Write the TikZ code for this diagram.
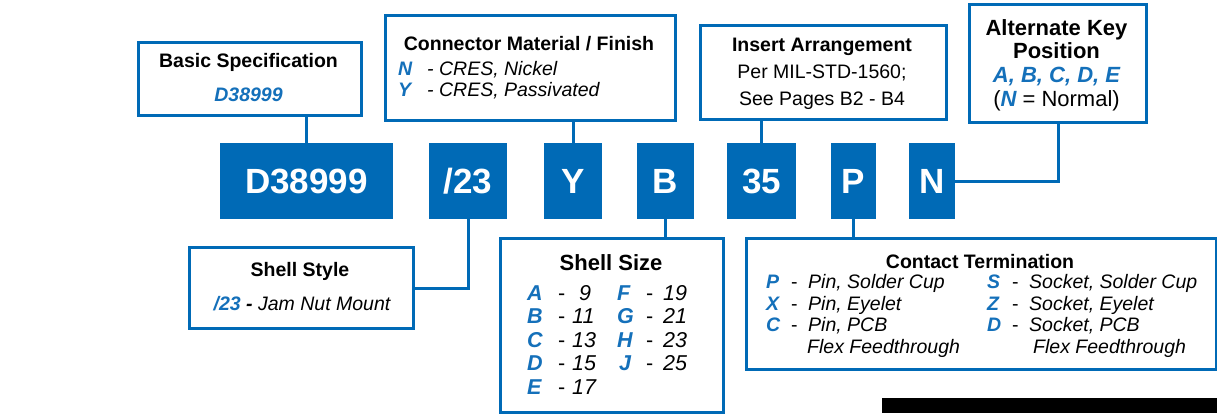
\documentclass[tikz,border=0pt]{standalone}
\usepackage{fontspec}
\setmainfont{Liberation Sans}
\definecolor{gblue}{RGB}{0,106,182}
\definecolor{tblue}{RGB}{20,112,186}
\begin{document}
\begin{tikzpicture}[x=1pt,y=-1pt,
  box/.style={draw=gblue, line width=3pt, fill=white, inner sep=0pt, anchor=north west},
  code/.style={fill=gblue, inner sep=0pt, anchor=north west, minimum height=76pt},
  codetxt/.style={text=white, font=\fontsize{35}{35}\selectfont\bfseries, inner sep=0pt, anchor=base},
  link/.style={draw=gblue, line width=3pt},
  ttl/.style={font=\fontsize{19.5}{20}\selectfont\bfseries, inner sep=0pt, anchor=base},
  bigttl/.style={font=\fontsize{22}{22}\selectfont\bfseries, inner sep=0pt, anchor=base},
  txt/.style={font=\fontsize{19.5}{20}\selectfont, inner sep=0pt, anchor=base},
  itx/.style={font=\fontsize{19.5}{20}\selectfont\itshape, inner sep=0pt, anchor=base west},
  bl/.style={font=\fontsize{19.5}{20}\selectfont\bfseries\itshape, text=tblue, inner sep=0pt, anchor=base west},
  dsh/.style={font=\fontsize{19.5}{20}\selectfont, inner sep=0pt, anchor=base west},
  szl/.style={font=\fontsize{21.5}{22}\selectfont\bfseries\itshape, text=tblue, inner sep=0pt, anchor=base west},
  szn/.style={font=\fontsize{21.5}{22}\selectfont\itshape, inner sep=0pt, anchor=base west},
  szd/.style={font=\fontsize{21.5}{22}\selectfont, inner sep=0pt, anchor=base west}]
\useasboundingbox (0,0) rectangle (1217,413);
\fill[white] (0,0) rectangle (1217,413);

% code boxes
\node[code, minimum width=173pt] (d) at (220,143) {};
\node[code, minimum width=78pt] (s23) at (429,143) {};
\node[code, minimum width=58pt] (y) at (544,143) {};
\node[code, minimum width=57pt] (b) at (637,143) {};
\node[code, minimum width=69pt] (n35) at (727,143) {};
\node[code, minimum width=45pt] (p) at (831,143) {};
\node[code, minimum width=46pt] (nn) at (909,143) {};

\node[codetxt] (dt) at (306.5,193) {D38999};
\node[codetxt] (s23t) at (468,193) {/23};
\node[codetxt] (yt) at (573,193) {Y};
\node[codetxt] (bt) at (665.5,193) {B};
\node[codetxt] (n35t) at (761.5,193) {35};
\node[codetxt] (pt) at (853.5,193) {P};
\node[codetxt] (nnt) at (932,193) {N};

% description boxes
\node[box, minimum width=223pt, minimum height=73pt] (bs) at (137,41) {};
\node[box, minimum width=290pt, minimum height=105pt] (cm) at (384,14) {};
\node[box, minimum width=246pt, minimum height=94pt] (ia) at (699,24) {};
\node[box, minimum width=177pt, minimum height=118pt] (ak) at (968,3) {};
\node[box, minimum width=224pt, minimum height=81pt] (ss) at (188,246) {};
\node[box, minimum width=223pt, minimum height=174pt] (sz) at (499,237) {};
\node[box, minimum width=470pt, minimum height=131pt] (ct) at (745,237) {};

% connectors
\draw[link] (bs.south -| d.north) -- (d.north);
\draw[link] (cm.south -| y.north) -- (y.north);
\draw[link] (ia.south -| n35.north) -- (n35.north);
\draw[link] (ak.south) |- (nn.east);
\draw[link] (s23.south) |- (ss.east);
\draw[link] (b.south) -- (b.south |- sz.north);
\draw[link] (p.south) -- (p.south |- ct.north);

% Basic Specification
\node[ttl] (bst) at (248.5,67.5) {Basic Specification};
\node[font=\fontsize{19.5}{20}\selectfont\bfseries\itshape, text=tblue, inner sep=0pt, anchor=base] (bsv) at (248.5,101.5) {D38999};

% Connector Material / Finish
\node[ttl] (cmt) at (529,50) {Connector Material / Finish};
\node[bl] (cmn) at (398,75) {N};
\node[itx] (cmnt) at (427,75) {- CRES, Nickel};
\node[bl] (cmy) at (398,96) {Y};
\node[itx] (cmyt) at (427,96) {- CRES, Passivated};

% Insert Arrangement
\node[ttl] (iat) at (822,51) {Insert Arrangement};
\node[txt] (ia1) at (822,78) {Per MIL-STD-1560;};
\node[txt] (ia2) at (822,105) {See Pages B2 - B4};

% Alternate Key Position
\node[bigttl] (ak1) at (1056.5,35) {Alternate Key};
\node[bigttl] (ak2) at (1056.5,58) {Position};
\node[font=\fontsize{22}{22}\selectfont\bfseries\itshape, text=tblue, inner sep=0pt, anchor=base] (ak3) at (1056.5,82) {A, B, C, D, E};
\node[font=\fontsize{22}{22}\selectfont, inner sep=0pt, anchor=base] (ak4) at (1056.5,106) {(\textcolor{tblue}{\bfseries\itshape N} = Normal)};

% Shell Style
\node[ttl] (sst) at (300,276.5) {Shell Style};
\node[font=\fontsize{19.5}{20}\selectfont\itshape, inner sep=0pt, anchor=base] (ssv) at (302,310) {\textcolor{tblue}{\bfseries /23} \textbf{-} Jam Nut Mount};

% Shell Size
\node[bigttl] (szt) at (611,270) {Shell Size};
\node[szl] (sa) at (527,300) {A};   \node[szd] (sad) at (558,300) {-}; \node[szn] (san) at (579,300) {9};
\node[szl] (sb) at (527,323.5) {B}; \node[szd] (sbd) at (558,323.5) {-}; \node[szn] (sbn) at (572,323.5) {11};
\node[szl] (sc) at (527,347) {C};   \node[szd] (scd) at (558,347) {-}; \node[szn] (scn) at (572,347) {13};
\node[szl] (sd) at (527,370.5) {D}; \node[szd] (sdd) at (558,370.5) {-}; \node[szn] (sdn) at (572,370.5) {15};
\node[szl] (se) at (527,394) {E};   \node[szd] (sed) at (558,394) {-}; \node[szn] (sen) at (572,394) {17};
\node[szl] (sf) at (617,300) {F};   \node[szd] (sfd) at (646,300) {-}; \node[szn] (sfn) at (663,300) {19};
\node[szl] (sg) at (617,323.5) {G}; \node[szd] (sgd) at (646,323.5) {-}; \node[szn] (sgn) at (663,323.5) {21};
\node[szl] (sh) at (617,347) {H};   \node[szd] (shd) at (646,347) {-}; \node[szn] (shn) at (663,347) {23};
\node[szl] (sj) at (619,370.5) {J}; \node[szd] (sjd) at (646,370.5) {-}; \node[szn] (sjn) at (663,370.5) {25};

% Contact Termination
\node[ttl] (ctt) at (980,268) {Contact Termination};
\node[bl] (cp) at (766,288) {P}; \node[dsh] (cpd) at (791,288) {-}; \node[itx] (cpt) at (808,288) {Pin, Solder Cup};
\node[bl] (cx) at (766,310) {X}; \node[dsh] (cxd) at (791,310) {-}; \node[itx] (cxt) at (808,310) {Pin, Eyelet};
\node[bl] (cc) at (766,331) {C}; \node[dsh] (ccd) at (791,331) {-}; \node[itx] (cct) at (808,331) {Pin, PCB};
\node[itx] (cf1) at (807,353) {Flex Feedthrough};
\node[bl] (cs) at (987,288) {S}; \node[dsh] (csd) at (1012,288) {-}; \node[itx] (cst) at (1029,288) {Socket, Solder Cup};
\node[bl] (cz) at (987,310) {Z}; \node[dsh] (czd) at (1012,310) {-}; \node[itx] (czt) at (1029,310) {Socket, Eyelet};
\node[bl] (cd) at (987,331) {D}; \node[dsh] (cdd) at (1012,331) {-}; \node[itx] (cdt) at (1029,331) {Socket, PCB};
\node[itx] (cf2) at (1033,353) {Flex Feedthrough};

% black bar at bottom right
\fill[black] (882,398) rectangle (1217,413);
\end{tikzpicture}
\end{document}
